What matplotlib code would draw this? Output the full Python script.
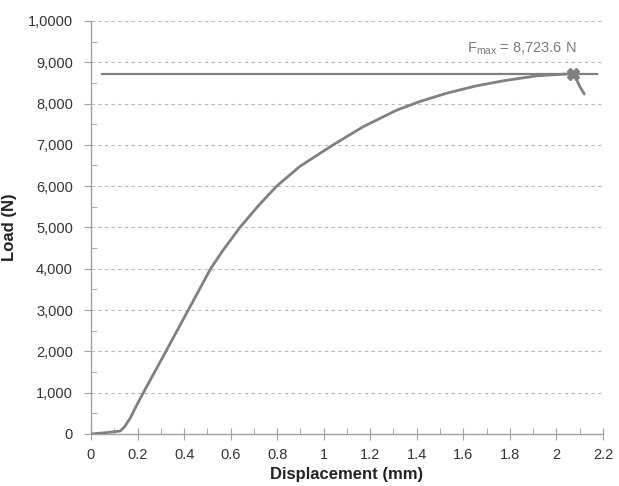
import numpy as np
import matplotlib
matplotlib.use("Agg")
from matplotlib import pyplot as plt
from matplotlib.ticker import MultipleLocator

plt.rcParams['font.family'] = ['Liberation Sans', 'DejaVu Sans']

# load-displacement curve
disp = [0, 0.06, 0.125, 0.145, 0.168, 0.195, 0.225, 0.322, 0.418, 0.514,
        0.54, 0.569, 0.640, 0.72, 0.798, 0.898, 1.041, 1.17, 1.314, 1.414,
        1.529, 1.65, 1.772, 1.915, 2.0, 2.073, 2.085, 2.1, 2.12]
load = [0, 30, 70, 180, 380, 680, 1000, 2000, 3000, 4000,
        4220, 4460, 5000, 5530, 6000, 6480, 7000, 7440, 7840, 8050,
        8250, 8420, 8550, 8670, 8700, 8723.6, 8600, 8420, 8230]

f_max = 8723.6
d_at_max = 2.073
fmax_line_x = [0.047, 2.174]

y_ticks = [0, 1000, 2000, 3000, 4000, 5000, 6000, 7000, 8000, 9000, 10000]
y_labels = ['0', '1,000', '2,000', '3,000', '4,000', '5,000', '6,000',
            '7,000', '8,000', '9,000', '1,0000']
x_ticks = [0, 0.2, 0.4, 0.6, 0.8, 1.0, 1.2, 1.4, 1.6, 1.8, 2.0, 2.2]
x_labels = ['0', '0.2', '0.4', '0.6', '0.8', '1', '1.2', '1.4', '1.6',
            '1.8', '2', '2.2']

grey = '#808080'

fig = plt.figure(figsize=(6.19, 4.86), dpi=100)
ax = fig.add_axes([0.147, 0.107, 0.827, 0.850])

for yt in y_ticks[1:]:
    ax.axhline(yt, color='#b8b8b8', lw=0.8, ls=(0, (3, 3)), zorder=0)

ax.plot(fmax_line_x, [f_max, f_max], color=grey, lw=1.6, zorder=2)
ax.plot(disp, load, color=grey, lw=2.0, zorder=3,
        solid_capstyle='round', solid_joinstyle='round')
ax.plot([d_at_max], [f_max], marker='X', ms=8, color=grey, zorder=4)

ax.text(1.85, 9340, r'F$_{\mathregular{max}}$ = 8,723.6 N', color='#7a7a7a',
        fontsize=10.5, ha='center', va='center')

ax.set_xlim(0, 2.2)
ax.set_ylim(0, 10000)
ax.set_xticks(x_ticks)
ax.set_xticklabels(x_labels)
ax.set_yticks(y_ticks)
ax.set_yticklabels(y_labels)
ax.xaxis.set_minor_locator(MultipleLocator(0.1))
ax.yaxis.set_minor_locator(MultipleLocator(500))

for s in ['top', 'right']:
    ax.spines[s].set_visible(False)
for s in ['left', 'bottom']:
    ax.spines[s].set_color('#a0a0a0')
    ax.spines[s].set_linewidth(1.0)

ax.tick_params(axis='y', which='major', direction='out', length=5,
               color='#a0a0a0', labelsize=10.5, labelcolor='#333333', pad=8)
ax.tick_params(axis='y', which='minor', direction='in', length=4,
               color='#a0a0a0')
ax.tick_params(axis='x', which='major', direction='inout', length=8,
               color='#a0a0a0', labelsize=10.5, labelcolor='#333333', pad=6)
ax.tick_params(axis='x', which='minor', direction='in', length=4,
               color='#a0a0a0')

ax.set_xlabel('Displacement (mm)', fontsize=12, fontweight='bold',
              color='#222222', labelpad=4)
ax.set_ylabel('Load (N)', fontsize=12, fontweight='bold',
              color='#222222', labelpad=8)

fig.savefig('out.png', dpi=100)
